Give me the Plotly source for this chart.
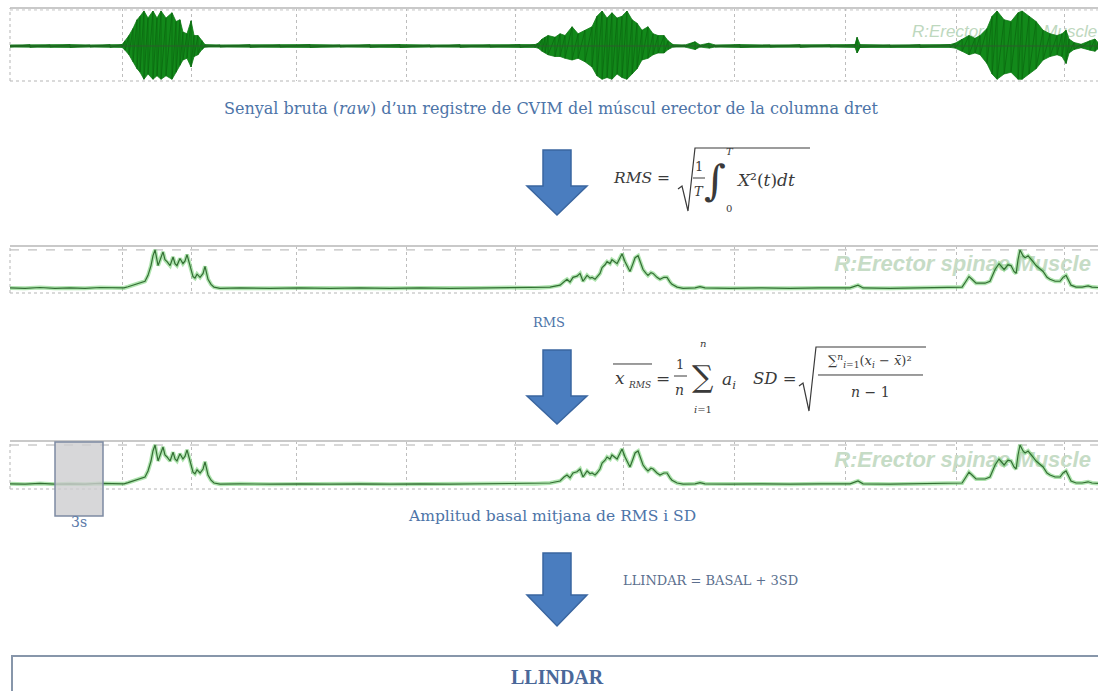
import plotly.graph_objects as go

W, H = 1098, 691

# ---------------- data (time in seconds, amplitudes normalised) ----------------
raw_t = [0, 1.33, 2.67, 4.0, 5.33, 6.67, 7.47,
         7.67, 7.93, 8.2, 8.47, 8.67, 8.93, 9.2, 9.53, 9.8, 10.07, 10.4, 10.8, 11.07, 11.33,
         11.53, 11.8, 12.07, 12.27, 12.53, 12.8, 13.0,
         14.0, 16.0, 18.0, 20.0, 22.0, 24.0, 26.0, 28.0, 30.0, 32.0, 34.0, 35.0,
         35.2, 35.47, 35.67, 35.87, 36.33, 36.67, 37.0, 37.47, 37.87, 38.33, 38.8, 39.13,
         39.47, 39.8, 40.13, 40.47, 40.8, 41.13, 41.47, 41.8, 42.13, 42.53, 42.87, 43.2,
         43.6, 43.87, 44.2,
         45.0, 45.67, 46.0, 46.6, 47.0, 48.67, 50.67, 52.67, 54.67, 56.33, 56.47, 56.67,
         58.67, 60.67, 62.67,
         63.0, 63.47, 63.93, 64.33, 64.67, 65.13, 65.47, 65.8, 66.27, 66.73, 67.2, 67.47,
         67.93, 68.4, 68.87, 69.33, 69.8, 70.13, 70.4, 70.6, 70.93, 71.4, 72.0, 72.33, 72.53]
raw_upper = [0.03, 0.04, 0.03, 0.04, 0.03, 0.04, 0.04,
             0.15, 0.3, 0.5, 0.75, 0.85, 1.0, 0.8, 1.0, 0.8, 1.0, 0.8, 0.95, 0.7, 0.75,
             0.4, 0.35, 0.72, 0.3, 0.3, 0.15, 0.04,
             0.03, 0.04, 0.03, 0.04, 0.03, 0.04, 0.04, 0.03, 0.04, 0.03, 0.04, 0.04,
             0.08, 0.2, 0.25, 0.3, 0.25, 0.35, 0.3, 0.55, 0.35, 0.45, 0.55, 0.85,
             1.0, 0.8, 0.95, 0.8, 0.85, 1.0, 0.75, 0.65, 0.45, 0.55, 0.35, 0.3,
             0.3, 0.15, 0.04,
             0.03, 0.12, 0.03, 0.08, 0.03, 0.04, 0.03, 0.04, 0.03, 0.04, 0.25, 0.04,
             0.03, 0.04, 0.04,
             0.08, 0.2, 0.3, 0.22, 0.3, 0.5, 0.85, 1.0, 0.75, 0.7, 0.95, 1.0,
             0.85, 0.7, 0.45, 0.35, 0.3, 0.35, 0.45, 0.2, 0.1, 0.05, 0.15, 0.2, 0.1]
raw_lower = [-0.03, -0.04, -0.03, -0.04, -0.03, -0.04, -0.04,
             -0.12, -0.25, -0.45, -0.65, -0.75, -0.95, -0.8, -0.95, -0.85, -0.95, -0.85, -0.95, -0.75, -0.55,
             -0.4, -0.35, -0.6, -0.3, -0.25, -0.1, -0.03,
             -0.03, -0.04, -0.03, -0.04, -0.03, -0.04, -0.04, -0.03, -0.04, -0.03, -0.04, -0.04,
             -0.06, -0.15, -0.2, -0.25, -0.3, -0.3, -0.35, -0.4, -0.35, -0.45, -0.6, -0.85,
             -0.95, -0.9, -0.95, -0.8, -0.9, -0.95, -0.8, -0.65, -0.4, -0.35, -0.25, -0.2,
             -0.2, -0.1, -0.03,
             -0.03, -0.1, -0.03, -0.06, -0.03, -0.04, -0.03, -0.04, -0.03, -0.04, -0.2, -0.04,
             -0.03, -0.04, -0.04,
             -0.06, -0.15, -0.25, -0.2, -0.25, -0.5, -0.8, -0.95, -0.8, -0.75, -0.95, -0.95,
             -0.8, -0.65, -0.4, -0.3, -0.25, -0.3, -0.5, -0.2, -0.1, -0.05, -0.12, -0.15, -0.08]

rms_t = [0, 1.0, 2.0, 3.0, 4.0, 5.0, 6.0, 7.0, 7.6,
         7.87, 8.2, 8.47, 8.73, 9.0, 9.2, 9.4, 9.53, 9.67, 9.87, 10.07, 10.2, 10.33, 10.47,
         10.67, 10.87, 11.0, 11.13, 11.33, 11.53, 11.67, 11.8, 12.0, 12.2, 12.33, 12.47,
         12.67, 12.87, 13.0, 13.13, 13.2, 13.4, 13.6, 14.0,
         15.33, 17.33, 19.33, 21.33, 23.33, 25.33, 27.33, 29.33, 31.33, 33.33, 35.0, 36.0,
         36.67, 36.93, 37.13, 37.33, 37.53, 37.8, 38.0, 38.2, 38.47, 38.67, 38.8, 39.0,
         39.13, 39.33, 39.47, 39.67, 39.8, 40.0, 40.13, 40.33, 40.47, 40.67, 40.8, 41.0,
         41.2, 41.33, 41.53, 41.67, 41.87, 42.0, 42.2, 42.4, 42.53, 42.73, 42.87, 43.13,
         43.33, 43.6, 43.8, 44.0, 44.13, 44.47, 44.87,
         45.67, 46.0, 46.33, 48.0, 50.0, 52.0, 54.0, 56.0, 56.53, 56.87, 58.67, 60.67,
         62.67, 63.47,
         63.73, 63.93, 64.13, 64.4, 64.67, 65.0, 65.33, 65.67, 65.93, 66.13, 66.27, 66.53,
         66.73, 66.93, 67.07, 67.2, 67.33, 67.53, 67.67, 67.87, 68.0, 68.2, 68.4, 68.67,
         68.87, 69.13, 69.33, 69.67, 70.0, 70.2, 70.4, 70.6, 70.73, 71.07, 71.47, 71.87,
         72.13, 72.53]
rms_val = [0.03, 0.02, 0.04, 0.02, 0.03, 0.02, 0.04, 0.03, 0.03,
           0.06, 0.1, 0.12, 0.15, 0.2, 0.35, 0.6, 0.85, 1.0, 0.6, 0.85, 0.95, 0.75, 0.7,
           0.6, 0.82, 0.65, 0.6, 0.78, 0.65, 0.72, 0.88, 0.6, 0.32, 0.28, 0.38,
           0.3, 0.4, 0.58, 0.4, 0.25, 0.12, 0.05, 0.02,
           0.03, 0.02, 0.03, 0.02, 0.03, 0.02, 0.03, 0.02, 0.03, 0.04, 0.03, 0.05,
           0.1, 0.2, 0.25, 0.18, 0.3, 0.33, 0.4, 0.2, 0.35, 0.28, 0.3, 0.25,
           0.3, 0.4, 0.55, 0.62, 0.7, 0.65, 0.75, 0.7, 0.65, 0.8, 0.9, 0.7,
           0.55, 0.45, 0.65, 0.8, 0.85, 0.7, 0.5, 0.4, 0.35, 0.42, 0.4, 0.3,
           0.25, 0.3, 0.3, 0.18, 0.12, 0.05, 0.02,
           0.03, 0.06, 0.03, 0.02, 0.03, 0.02, 0.03, 0.03, 0.1, 0.03, 0.02, 0.03,
           0.04, 0.05,
           0.2, 0.32, 0.25, 0.15, 0.15, 0.15, 0.2, 0.5, 0.65, 0.55, 0.5, 0.62,
           0.6, 0.45, 0.4, 0.75, 1.0, 0.85, 0.8, 0.85, 0.8, 0.7, 0.6, 0.5,
           0.45, 0.3, 0.25, 0.2, 0.2, 0.3, 0.35, 0.2, 0.1, 0.05, 0.05, 0.08,
           0.05, 0.04]

grid_t = [0, 7.53, 12.07, 19.13, 26.4, 33.73, 40.93, 48.27, 55.67, 63.07, 70.27]
basal_window = [3.0, 6.2]
t_max = 72.53
watermark = "R:Erector spinae Muscle"

# ---------------- helpers (pixel -> paper) ----------------
def X(p):
    return p / W

def Y(p):
    return 1 - p / H

GREEN_FILL = "#12891a"
GREEN_LINE = "#0f7a15"
RMS_LINE = "#336e33"
RMS_HALO = "rgba(110,205,110,0.55)"
WM = "#c6dcc6"
BLUE_TXT = "#4d74a8"
MATH = "#3a3a3a"
SERIF = "DejaVu Serif"

fig = go.Figure()

# watermark texts (behind signals)
fig.add_trace(go.Scatter(x=[66.3], y=[0.38], mode="text", text=["<i>" + watermark + "</i>"],
                         textfont=dict(family="Liberation Sans", size=17, color="#bed8be"),
                         xaxis="x", yaxis="y", hoverinfo="skip", showlegend=False))
for ax, yy in (("2", 0.6), ("3", 0.58)):
    fig.add_trace(go.Scatter(x=[63.5], y=[yy], mode="text",
                             text=["<b><i>" + watermark + "</i></b>"],
                             textfont=dict(family="Liberation Sans", size=22, color=WM),
                             xaxis="x" + ax, yaxis="y" + ax, hoverinfo="skip", showlegend=False))

# raw EMG band
fig.add_trace(go.Scatter(x=raw_t, y=raw_lower, mode="lines", line=dict(color=GREEN_LINE, width=0.8),
                         xaxis="x", yaxis="y", hoverinfo="skip", showlegend=False))
fig.add_trace(go.Scatter(x=raw_t, y=raw_upper, mode="lines", line=dict(color=GREEN_LINE, width=0.8),
                         fill="tonexty", fillcolor=GREEN_FILL,
                         xaxis="x", yaxis="y", hoverinfo="skip", showlegend=False))
# striated texture: alternate between the two envelopes
zig_t, zig_v = [], []
for t, u, l in zip(raw_t, raw_upper, raw_lower):
    zig_t += [t, t]
    zig_v += [u, l]
fig.add_trace(go.Scatter(x=zig_t, y=zig_v, mode="lines", line=dict(color="#0b6a10", width=0.8),
                         xaxis="x", yaxis="y", hoverinfo="skip", showlegend=False))
fig.add_trace(go.Scatter(x=[raw_t[0], raw_t[-1]], y=[0, 0], mode="lines",
                         line=dict(color="#2f5a2f", width=1.2),
                         xaxis="x", yaxis="y", hoverinfo="skip", showlegend=False))

# RMS traces (panel 2 and 3)
for ax in ("2", "3"):
    fig.add_trace(go.Scatter(x=rms_t, y=rms_val, mode="lines", line=dict(color=RMS_HALO, width=4),
                             xaxis="x" + ax, yaxis="y" + ax, hoverinfo="skip", showlegend=False))
    fig.add_trace(go.Scatter(x=rms_t, y=rms_val, mode="lines", line=dict(color=RMS_LINE, width=1.2),
                             xaxis="x" + ax, yaxis="y" + ax, hoverinfo="skip", showlegend=False))

xcommon = dict(range=[0, t_max], tickvals=grid_t, showticklabels=False, ticks="",
               showgrid=True, gridcolor="#bdbdbd", griddash="dot", gridwidth=1,
               zeroline=False, showline=False, domain=[X(10), 1], fixedrange=True)
ycommon = dict(showticklabels=False, ticks="", showgrid=False, zeroline=False,
               showline=False, fixedrange=True)

layout = dict(
    width=W, height=H, margin=dict(l=0, r=0, t=0, b=0),
    paper_bgcolor="white", plot_bgcolor="rgba(0,0,0,0)", showlegend=False,
    xaxis=dict(xcommon, anchor="y"),
    yaxis=dict(ycommon, range=[-1.0, 1.086], domain=[Y(81), Y(8)], anchor="x"),
    xaxis2=dict(xcommon, anchor="y2"),
    yaxis2=dict(ycommon, range=[-0.1, 1.1], domain=[Y(293), Y(246)], anchor="x2"),
    xaxis3=dict(xcommon, anchor="y3"),
    yaxis3=dict(ycommon, range=[-0.1, 1.1], domain=[Y(489), Y(441)], anchor="x3"),
)
fig.update_layout(**layout)

shapes = []
# panel frames
for ax, has_dash in (("", False), ("2", True), ("3", True)):
    xd = "x%s domain" % ax
    yd = "y%s domain" % ax
    shapes.append(dict(type="line", xref=xd, yref=yd, x0=0, x1=1, y0=1, y1=1,
                       line=dict(color="#c9c9c9", width=2)))
    shapes.append(dict(type="line", xref=xd, yref=yd, x0=0, x1=1, y0=0, y1=0,
                       line=dict(color="#b5b5b5", width=1, dash="dot")))
    shapes.append(dict(type="line", xref=xd, yref=yd, x0=0, x1=0, y0=0, y1=1,
                       line=dict(color="#b5b5b5", width=1, dash="dot")))
    if has_dash:
        shapes.append(dict(type="line", xref=xd, yref="y" + ax, x0=0, x1=1, y0=1.0, y1=1.0,
                           line=dict(color="#b0b0b0", width=1, dash="dash"), layer="below"))
    else:
        shapes.append(dict(type="line", xref=xd, yref="y", x0=0, x1=1, y0=1.03, y1=1.03,
                           line=dict(color="#c5c5c5", width=1, dash="dot"), layer="below"))

# 3 s basal window
shapes.append(dict(type="rect", xref="x3", yref="paper", x0=basal_window[0], x1=basal_window[1],
                   y0=Y(516), y1=Y(442), fillcolor="rgba(205,205,208,0.8)",
                   line=dict(color="#7d8ba3", width=1.5)))

# arrows
def arrow(top, neck, tip, cx=557, sw=14, hw=30):
    p = [(cx - sw, top), (cx + sw, top), (cx + sw, neck), (cx + hw, neck), (cx, tip),
         (cx - hw, neck), (cx - sw, neck)]
    d = "M " + " L ".join("%.5f,%.5f" % (X(a), Y(b)) for a, b in p) + " Z"
    return dict(type="path", xref="paper", yref="paper", path=d,
                fillcolor="#4a7dbf", line=dict(color="#3a66a0", width=1.5))

shapes.append(arrow(150, 186, 215))
shapes.append(arrow(350, 396, 424))
shapes.append(arrow(553, 595, 626))

# bottom box
shapes.append(dict(type="rect", xref="paper", yref="paper", x0=X(12), x1=X(1100),
                   y0=Y(700), y1=Y(656), line=dict(color="#8796aa", width=2), fillcolor="white"))

def poly(pts, width=1.2, color=MATH):
    d = "M " + " L ".join("%.5f,%.5f" % (X(a), Y(b)) for a, b in pts)
    return dict(type="path", xref="paper", yref="paper", path=d, line=dict(color=color, width=width))

# formula 1 : sqrt and fraction bar
shapes.append(poly([(678, 189), (682, 186), (688, 211), (695, 148), (810, 148)]))
shapes.append(poly([(693, 178), (705, 178)], width=1))
# formula 2 : overline x_RMS, fraction bar
shapes.append(poly([(613, 364), (652, 364)], width=1))
shapes.append(poly([(674, 376), (687, 376)], width=1))
# formula 3 : sqrt, fraction bar
shapes.append(poly([(799, 386), (803, 383), (809, 411), (816, 347), (926, 347)]))
shapes.append(poly([(818, 375), (923, 375)], width=1))

fig.update_layout(shapes=shapes)

ann = []
def txt(s, x, y, size, color=MATH, family=SERIF, xanchor="center", yanchor="middle"):
    ann.append(dict(text=s, x=X(x), y=Y(y), xref="paper", yref="paper", showarrow=False,
                    xanchor=xanchor, yanchor=yanchor,
                    font=dict(family=family, size=size, color=color)))

txt("Senyal bruta (<i>raw</i>) d\u2019un registre de CVIM del m\u00fascul erector de la columna dret",
    551, 108, 16, BLUE_TXT)
txt("RMS", 549, 322, 13, BLUE_TXT)
txt("Amplitud basal mitjana de RMS i SD", 552, 516, 15.5, BLUE_TXT)
txt("LLINDAR = BASAL + 3SD", 710, 580, 13, "#5b6f8e")
txt("3s", 79, 522, 14, "#5b7aa8")
txt("<b>LLINDAR</b>", 557, 677, 20, "#4a6899", family="Liberation Serif")

# formula 1
txt("<i>RMS</i> =", 611, 178, 15.5, xanchor="left")
txt("1", 699, 166, 13)
txt("<i>T</i>", 699, 191, 13)
txt("\u222b", 715, 180, 42)
txt("<i>T</i>", 730, 151, 10)
txt("0", 729, 208, 10)
txt("<i>X</i>\u00b2(<i>t</i>)<i>dt</i>", 734, 180, 17, xanchor="left")

# formula 2
txt("<i>x</i>", 620, 378, 17)
txt("<i>RMS</i>", 639, 385, 9)
txt("=", 663, 378, 17)
txt("1", 680, 364, 13)
txt("<i>n</i>", 680, 390, 14)
txt("\u2211", 703, 377, 30)
txt("<i>n</i>", 703, 343, 10)
txt("<i>i</i>=1", 703, 409, 10)
txt("<i>a<sub>i</sub></i>", 729, 380, 17)

# formula 3
txt("<i>SD</i> =", 751, 378, 16.5, xanchor="left")
txt("\u2211<sup><i>n</i></sup><sub><i>i</i>=1</sub>(<i>x<sub>i</sub></i> \u2212 <i>x\u0304</i>)\u00b2",
    870, 361, 13)
txt("<i>n</i> \u2212 1", 870, 392, 14)

fig.update_layout(annotations=ann)

fig.write_html("out.html", config={"displayModeBar": False},
               post_script="document.body.style.margin='0';document.body.style.overflow='hidden';")
